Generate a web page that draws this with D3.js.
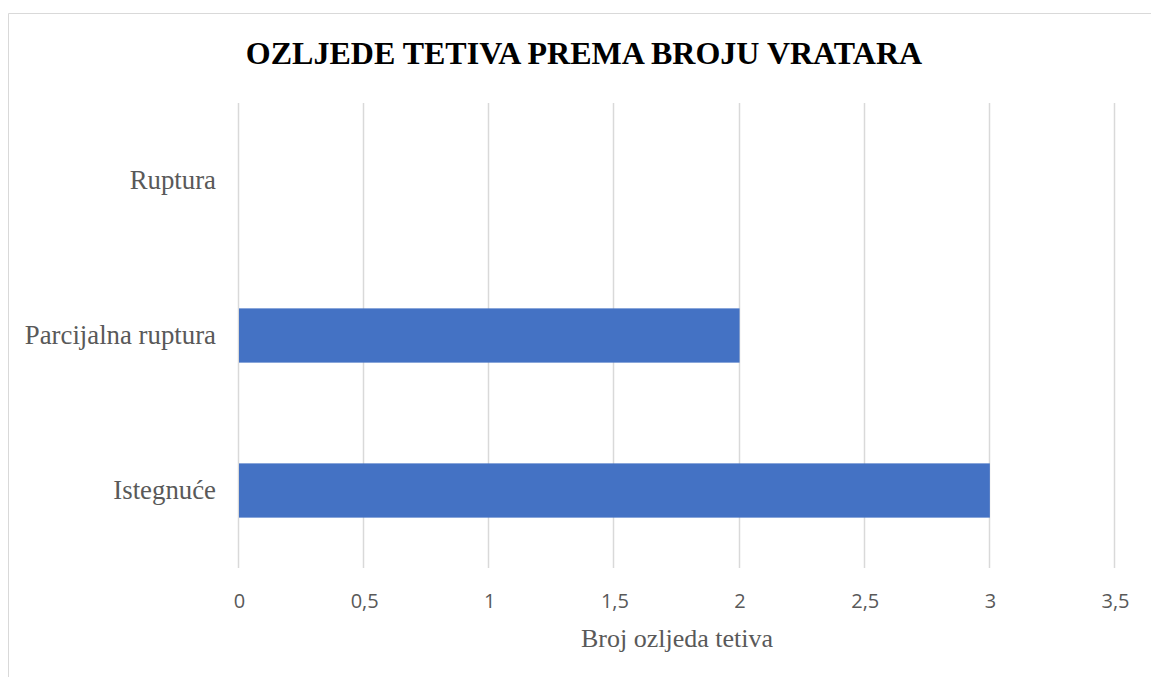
<!DOCTYPE html>
<html>
<head>
<meta charset="utf-8">
<script src="https://cdn.jsdelivr.net/npm/d3@7"></script>
<style>
  body { margin: 0; background: #fff; }
</style>
</head>
<body>
<svg id="chart" width="1151" height="677"></svg>
<script>
var svg = d3.select("#chart");

// data
var categories = ["Ruptura", "Parcijalna ruptura", "Istegnuće"];
var values = [0, 2, 3];
var xTicks = [0, 0.5, 1, 1.5, 2, 2.5, 3, 3.5];

var titleText = "OZLJEDE TETIVA PREMA BROJU VRATARA";
var xTitle = "Broj ozljeda tetiva";

var plotLeft = 239, plotRight = 1115, plotTop = 103, plotBottom = 568;

// chart frame (cropped on right and bottom)
svg.append("path")
  .attr("d", "M8.5,677 L8.5,13.5 L1151,13.5")
  .attr("fill", "none")
  .attr("stroke", "#d9d9d9")
  .attr("stroke-width", 1);

var x = d3.scaleLinear().domain([0, 3.5]).range([plotLeft, plotRight]);
var y = d3.scaleBand().domain(categories).range([plotTop, plotBottom]).paddingInner(0.65).paddingOuter(0.325);

// gridlines
svg.append("g").selectAll("line")
  .data(xTicks)
  .enter().append("line")
  .attr("x1", d => Math.round(x(d)) - 0.5)
  .attr("x2", d => Math.round(x(d)) - 0.5)
  .attr("y1", plotTop)
  .attr("y2", plotBottom)
  .attr("stroke", "#d9d9d9")
  .attr("stroke-width", 1.5);

// bars
svg.append("g").selectAll("rect")
  .data(values)
  .enter().append("rect")
  .attr("x", x(0))
  .attr("y", (d, i) => y(categories[i]))
  .attr("width", d => x(d) - x(0))
  .attr("height", y.bandwidth())
  .attr("fill", "#4472c4");

// x tick labels
var xAxis = d3.axisBottom(x).tickValues(xTicks).tickSize(0).tickPadding(0)
  .tickFormat(d => String(d).replace(".", ","));
var gx = svg.append("g")
  .attr("transform", "translate(0," + (plotBottom + 40) + ")")
  .call(xAxis);
gx.select(".domain").remove();
gx.selectAll("text")
  .attr("y", 0)
  .attr("dy", 0)
  .attr("fill", "#595959")
  .style("font-family", "'Open Sans', 'Liberation Sans', sans-serif")
  .style("font-size", "20px");

// category labels
var yAxis = d3.axisLeft(y).tickSize(0).tickPadding(23);
var gy = svg.append("g")
  .attr("transform", "translate(" + plotLeft + ",0)")
  .call(yAxis);
gy.select(".domain").remove();
gy.selectAll("text")
  .attr("fill", "#595959")
  .style("font-family", "'Liberation Serif', 'Times New Roman', serif")
  .style("font-size", "26.8px");

// title
svg.append("text")
  .attr("x", 584)
  .attr("y", 64)
  .attr("text-anchor", "middle")
  .attr("fill", "#000")
  .style("font-family", "'Liberation Serif', 'Times New Roman', serif")
  .style("font-weight", "bold")
  .style("font-size", "32px")
  .text(titleText);

// x axis title
svg.append("text")
  .attr("x", 677)
  .attr("y", 647)
  .attr("text-anchor", "middle")
  .attr("fill", "#595959")
  .style("font-family", "'Liberation Serif', 'Times New Roman', serif")
  .style("font-size", "26px")
  .text(xTitle);
</script>
</body>
</html>
